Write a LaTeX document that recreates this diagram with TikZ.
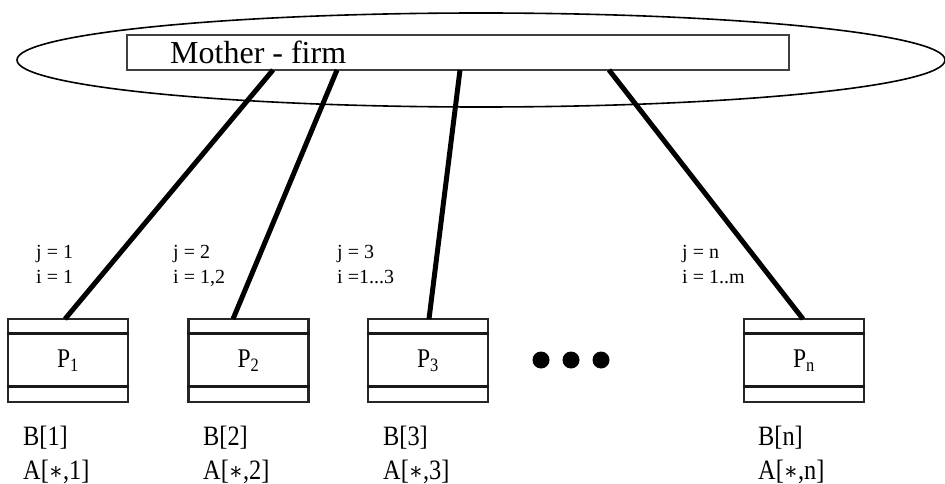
\documentclass[tikz,border=0pt]{standalone}
\usepackage{graphicx}
\usepackage{fontspec}
\setmainfont{Liberation Serif}
\newfontfamily\djv{DejaVu Serif}
\usetikzlibrary{shapes.geometric}
\newcommand{\hsq}[1]{\scalebox{0.87}[1]{#1}}
\newcommand{\myast}{{\djv\fontsize{24}{24}\selectfont ∗}}
\begin{document}
\begin{tikzpicture}[x=1pt,y=-1pt,
  link/.style={line width=5pt},
  pbox/.style={draw=black!85, line width=2.2pt, minimum width=120pt, minimum height=83pt, inner sep=0pt, font=\fontsize{27}{27}\selectfont},
  inner/.style={line width=3pt, draw=black!90},
  lbl/.style={font=\fontsize{20}{22}\selectfont, anchor=base west, inner sep=0pt},
  blbl/.style={font=\fontsize{28}{30}\selectfont, anchor=base west, inner sep=0pt},
  dot/.style={circle, fill=black, minimum size=17pt, inner sep=0pt}]
\useasboundingbox (0,0) rectangle (945,484);
% mother firm
\node[ellipse, draw, line width=1.6pt, minimum width=928pt, minimum height=94pt, inner sep=0pt] (e) at (481,60) {};
\node[draw=black!75, line width=1.6pt, fill=white, minimum width=662pt, minimum height=35pt, inner sep=0pt] (m) at (458,52.5) {};
\node[anchor=base west, inner sep=0pt, font=\fontsize{32}{34}\selectfont] (mt) at (170,64) {Mother - firm};
% boxes
\node[pbox] (p1) at (68,360.5) {\hsq{P\textsubscript{1}}};
\node[pbox] (p2) at (248.5,360.5) {\hsq{P\textsubscript{2}}};
\node[pbox] (p3) at (428,360.5) {\hsq{P\textsubscript{3}}};
\node[pbox] (pn) at (804,360.5) {\hsq{P\textsubscript{n}}};
\foreach \b in {p1,p2,p3,pn}{
  \draw[inner] ([yshift=-16pt]\b.north west) -- ([yshift=-16pt]\b.north east);
  \draw[inner] ([yshift=17pt]\b.south west) -- ([yshift=17pt]\b.south east);
}
% connector ends
\coordinate (s1) at (273,70);
\coordinate (s2) at (337,70);
\coordinate (s3) at (460,70);
\coordinate (s4) at (609,70);
\coordinate (t1) at (65,319);
\coordinate (t2) at (233,319);
\coordinate (t3) at (429,319);
\coordinate (t4) at (803,319);
\draw[link] (s1) -- (t1);
\draw[link] (s2) -- (t2);
\draw[link] (s3) -- (t3);
\draw[link] (s4) -- (t4);
% dots
\node[dot] (d1) at (541,360) {};
\node[dot] (d2) at (571,360) {};
\node[dot] (d3) at (601,360) {};
% j/i labels
\node[lbl] (j1) at (36,258) {j = 1};
\node[lbl] (i1) at (36,283) {i = 1};
\node[lbl] (j2) at (173,258) {j = 2};
\node[lbl] (i2) at (173,283) {i = 1,2};
\node[lbl] (j3) at (337,258) {j = 3};
\node[lbl] (i3) at (337,283) {i =1...3};
\node[lbl] (jn) at (682,258) {j = n};
\node[lbl] (in) at (682,283) {i = 1..m};
% B / A labels
\node[blbl] (b1) at (23,445) {\hsq{B[1]}};
\node[blbl] (a1) at (23,479) {\hsq{A[\myast,1]}};
\node[blbl] (b2) at (203,445) {\hsq{B[2]}};
\node[blbl] (a2) at (203,479) {\hsq{A[\myast,2]}};
\node[blbl] (b3) at (383,445) {\hsq{B[3]}};
\node[blbl] (a3) at (383,479) {\hsq{A[\myast,3]}};
\node[blbl] (bn) at (758,445) {\hsq{B[n]}};
\node[blbl] (an) at (758,479) {\hsq{A[\myast,n]}};
\end{tikzpicture}
\end{document}
